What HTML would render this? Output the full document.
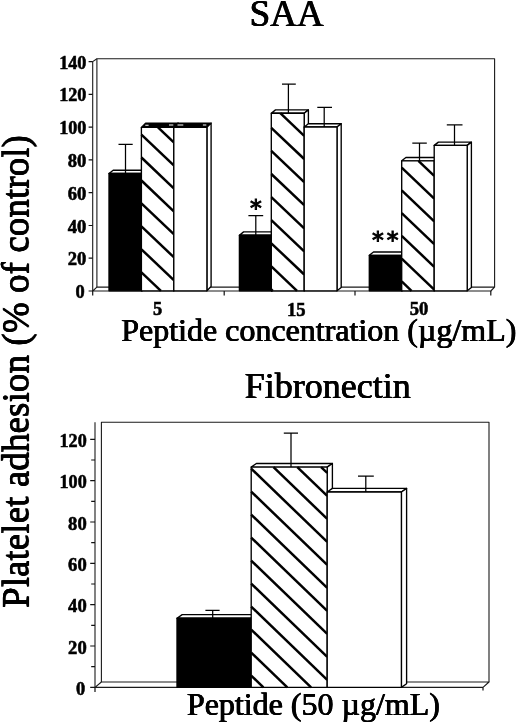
<!DOCTYPE html>
<html><head><meta charset="utf-8"><title>Figure</title>
<style>html,body{margin:0;padding:0;background:#fff}svg{display:block}.h{text-shadow:0.3px 0 0 #000,-0.3px 0 0 #000}.v{text-shadow:0 0.33px 0 #000,0 -0.33px 0 #000}</style></head>
<body>
<svg width="520" height="724" viewBox="0 0 520 724">
<rect width="520" height="724" fill="#fff"/>
<text x="286.6" y="26" font-size="37" text-anchor="middle" font-family="Liberation Serif, Times New Roman, serif" stroke="#000" stroke-width="0.2" class="h">SAA</text>
<text x="327.8" y="397.5" font-size="36" text-anchor="middle" font-family="Liberation Serif, Times New Roman, serif" stroke="#000" stroke-width="0.2" class="h">Fibronectin</text>
<text x="121.2" y="341" font-size="32" font-family="Liberation Serif, Times New Roman, serif" stroke="#000" stroke-width="0.2" class="h">Peptide concentration (µg/mL)</text>
<text x="186.9" y="715" font-size="32" font-family="Liberation Serif, Times New Roman, serif" stroke="#000" stroke-width="0.2" class="h">Peptide (50 µg/mL)</text>
<text transform="translate(28.3 608) rotate(-90)" font-size="37.2" font-family="Liberation Serif, Times New Roman, serif" stroke="#000" stroke-width="0.2" class="v">Platelet adhesion (% of control)</text>
<g fill="none" stroke="#1a1a1a" stroke-width="1.1" stroke-linejoin="round">
<path d="M96.9 287.1V58.7H494.6V287.1"/>
<path d="M92.7 291.0V61.6L96.9 58.7"/>
<path d="M92.7 291.0H490.8L494.6 287.1H96.9Z"/>
</g>
<text x="86.4" y="68.6" font-size="18.3" text-anchor="end" textLength="27.2" lengthAdjust="spacingAndGlyphs" font-family="Liberation Serif, Times New Roman, serif" font-weight="bold" stroke="#000" stroke-width="0.55">140</text>
<text x="86.4" y="101.4" font-size="18.3" text-anchor="end" textLength="27.2" lengthAdjust="spacingAndGlyphs" font-family="Liberation Serif, Times New Roman, serif" font-weight="bold" stroke="#000" stroke-width="0.55">120</text>
<text x="86.4" y="134.1" font-size="18.3" text-anchor="end" textLength="27.2" lengthAdjust="spacingAndGlyphs" font-family="Liberation Serif, Times New Roman, serif" font-weight="bold" stroke="#000" stroke-width="0.55">100</text>
<text x="86.4" y="166.9" font-size="18.3" text-anchor="end" textLength="18.6" lengthAdjust="spacingAndGlyphs" font-family="Liberation Serif, Times New Roman, serif" font-weight="bold" stroke="#000" stroke-width="0.55">80</text>
<text x="86.4" y="199.7" font-size="18.3" text-anchor="end" textLength="18.6" lengthAdjust="spacingAndGlyphs" font-family="Liberation Serif, Times New Roman, serif" font-weight="bold" stroke="#000" stroke-width="0.55">60</text>
<text x="86.4" y="232.5" font-size="18.3" text-anchor="end" textLength="18.6" lengthAdjust="spacingAndGlyphs" font-family="Liberation Serif, Times New Roman, serif" font-weight="bold" stroke="#000" stroke-width="0.55">40</text>
<text x="86.4" y="265.2" font-size="18.3" text-anchor="end" textLength="18.6" lengthAdjust="spacingAndGlyphs" font-family="Liberation Serif, Times New Roman, serif" font-weight="bold" stroke="#000" stroke-width="0.55">20</text>
<text x="84.6" y="298.0" font-size="18.3" text-anchor="end" textLength="9.2" lengthAdjust="spacingAndGlyphs" font-family="Liberation Serif, Times New Roman, serif" font-weight="bold" stroke="#000" stroke-width="0.55">0</text>
<path d="M88.6 61.6H92.7M88.6 94.4H92.7M88.6 127.1H92.7M88.6 159.9H92.7M88.6 192.7H92.7M88.6 225.5H92.7M88.6 258.2H92.7M88.6 291.0H92.7M92.7 291.0V295.6M224.2 291.0V295.6M355.0 291.0V295.6M490.8 291.0V295.6" stroke="#111" stroke-width="1.2" fill="none"/>
<text x="157.6" y="315.1" font-size="18.3" text-anchor="middle" textLength="9.2" lengthAdjust="spacingAndGlyphs" font-family="Liberation Serif, Times New Roman, serif" font-weight="bold" stroke="#000" stroke-width="0.55">5</text>
<text x="296.3" y="315.6" font-size="18.3" text-anchor="middle" textLength="18.6" lengthAdjust="spacingAndGlyphs" font-family="Liberation Serif, Times New Roman, serif" font-weight="bold" stroke="#000" stroke-width="0.55">15</text>
<text x="419.0" y="314.9" font-size="18.3" text-anchor="middle" textLength="18.6" lengthAdjust="spacingAndGlyphs" font-family="Liberation Serif, Times New Roman, serif" font-weight="bold" stroke="#000" stroke-width="0.55">50</text>
<polygon points="109.0,173.5 113.2,170.2 146.2,170.2 142.0,173.5" fill="#fff" stroke="#000" stroke-width="1.35" stroke-linejoin="round"/><polygon points="142.0,173.5 146.2,170.2 146.2,287.5 142.0,290.8" fill="#fff" stroke="#000" stroke-width="1.35" stroke-linejoin="round"/><rect x="109.0" y="173.5" width="33.0" height="117.3" fill="#000" stroke="#000" stroke-width="1.35" stroke-linejoin="round"/><path d="M125.5 173.5V144.4M118.5 144.4H132.7" stroke="#000" stroke-width="1.25" fill="none"/>
<polygon points="141.4,127.4 145.6,123.1 178.0,123.1 173.8,127.4" fill="#000" stroke="#000" stroke-width="1.35" stroke-linejoin="round"/><polygon points="173.8,127.4 178.0,123.1 178.0,286.5 173.8,290.8" fill="#fff" stroke="#000" stroke-width="1.35" stroke-linejoin="round"/><rect x="141.4" y="127.4" width="32.4" height="163.4" fill="#fff" stroke="#000" stroke-width="1.35" stroke-linejoin="round"/><g stroke="#000" stroke-width="2.50"><line x1="158.0" y1="127.4" x2="173.8" y2="142.4"/><line x1="141.4" y1="134.6" x2="173.8" y2="165.4"/><line x1="141.4" y1="157.5" x2="173.8" y2="188.3"/><line x1="141.4" y1="180.5" x2="173.8" y2="211.3"/><line x1="141.4" y1="203.4" x2="173.8" y2="234.2"/><line x1="141.4" y1="226.4" x2="173.8" y2="257.2"/><line x1="141.4" y1="249.3" x2="173.8" y2="280.1"/><line x1="141.4" y1="272.3" x2="160.9" y2="290.8"/></g>
<polygon points="173.8,127.4 178.0,123.1 211.1,123.1 206.9,127.4" fill="#000" stroke="#000" stroke-width="1.35" stroke-linejoin="round"/><polygon points="206.9,127.4 211.1,123.1 211.1,286.5 206.9,290.8" fill="#fff" stroke="#000" stroke-width="1.35" stroke-linejoin="round"/><rect x="173.8" y="127.4" width="33.1" height="163.4" fill="#fff" stroke="#000" stroke-width="1.35" stroke-linejoin="round"/>
<path d="M145.3 125.2H148.6M169 125H173.3M177.5 125H183.3M202.9 125H206.3" stroke="#fff" stroke-width="1.1" fill="none"/>
<polygon points="239.4,235.2 243.6,231.9 276.2,231.9 272.0,235.2" fill="#fff" stroke="#000" stroke-width="1.35" stroke-linejoin="round"/><polygon points="272.0,235.2 276.2,231.9 276.2,287.5 272.0,290.8" fill="#fff" stroke="#000" stroke-width="1.35" stroke-linejoin="round"/><rect x="239.4" y="235.2" width="32.6" height="55.6" fill="#000" stroke="#000" stroke-width="1.35" stroke-linejoin="round"/><path d="M255.8 235.2V215.5M248.4 215.5H263.2" stroke="#000" stroke-width="1.25" fill="none"/>
<polygon points="271.3,113.2 275.5,109.9 308.4,109.9 304.2,113.2" fill="#fff" stroke="#000" stroke-width="1.35" stroke-linejoin="round"/><polygon points="304.2,113.2 308.4,109.9 308.4,287.5 304.2,290.8" fill="#fff" stroke="#000" stroke-width="1.35" stroke-linejoin="round"/><rect x="271.3" y="113.2" width="32.9" height="177.6" fill="#fff" stroke="#000" stroke-width="1.35" stroke-linejoin="round"/><g stroke="#000" stroke-width="2.50"><line x1="280.3" y1="113.2" x2="304.2" y2="135.9"/><line x1="271.3" y1="127.8" x2="304.2" y2="159.0"/><line x1="271.3" y1="150.9" x2="304.2" y2="182.1"/><line x1="271.3" y1="174.0" x2="304.2" y2="205.2"/><line x1="271.3" y1="197.1" x2="304.2" y2="228.3"/><line x1="271.3" y1="220.2" x2="304.2" y2="251.4"/><line x1="271.3" y1="243.3" x2="304.2" y2="274.5"/><line x1="271.3" y1="266.4" x2="297.0" y2="290.8"/><line x1="271.3" y1="289.5" x2="272.7" y2="290.8"/></g><path d="M288.4 113.2V84.2M282.0 84.2H295.8" stroke="#000" stroke-width="1.25" fill="none"/>
<polygon points="304.2,127.0 308.4,123.7 341.2,123.7 337.0,127.0" fill="#fff" stroke="#000" stroke-width="1.35" stroke-linejoin="round"/><polygon points="337.0,127.0 341.2,123.7 341.2,287.5 337.0,290.8" fill="#fff" stroke="#000" stroke-width="1.35" stroke-linejoin="round"/><rect x="304.2" y="127.0" width="32.8" height="163.8" fill="#fff" stroke="#000" stroke-width="1.35" stroke-linejoin="round"/><path d="M324.2 127.0V107.3M317.3 107.3H332.0" stroke="#000" stroke-width="1.25" fill="none"/>
<polygon points="369.3,255.3 373.5,252.0 406.2,252.0 402.0,255.3" fill="#fff" stroke="#000" stroke-width="1.35" stroke-linejoin="round"/><polygon points="402.0,255.3 406.2,252.0 406.2,287.5 402.0,290.8" fill="#fff" stroke="#000" stroke-width="1.35" stroke-linejoin="round"/><rect x="369.3" y="255.3" width="32.7" height="35.5" fill="#000" stroke="#000" stroke-width="1.35" stroke-linejoin="round"/>
<polygon points="401.7,160.8 405.9,157.5 438.4,157.5 434.2,160.8" fill="#fff" stroke="#000" stroke-width="1.35" stroke-linejoin="round"/><polygon points="434.2,160.8 438.4,157.5 438.4,287.5 434.2,290.8" fill="#fff" stroke="#000" stroke-width="1.35" stroke-linejoin="round"/><rect x="401.7" y="160.8" width="32.5" height="130.0" fill="#fff" stroke="#000" stroke-width="1.35" stroke-linejoin="round"/><g stroke="#000" stroke-width="2.50"><line x1="418.4" y1="160.8" x2="434.2" y2="175.8"/><line x1="401.7" y1="167.7" x2="434.2" y2="198.6"/><line x1="401.7" y1="190.4" x2="434.2" y2="221.3"/><line x1="401.7" y1="213.2" x2="434.2" y2="244.1"/><line x1="401.7" y1="235.9" x2="434.2" y2="266.8"/><line x1="401.7" y1="258.7" x2="434.2" y2="289.6"/><line x1="401.7" y1="281.4" x2="411.5" y2="290.8"/></g><path d="M419.5 160.8V143.0M412.3 143.0H426.8" stroke="#000" stroke-width="1.25" fill="none"/>
<polygon points="434.2,145.4 438.4,142.1 471.4,142.1 467.2,145.4" fill="#fff" stroke="#000" stroke-width="1.35" stroke-linejoin="round"/><polygon points="467.2,145.4 471.4,142.1 471.4,287.5 467.2,290.8" fill="#fff" stroke="#000" stroke-width="1.35" stroke-linejoin="round"/><rect x="434.2" y="145.4" width="33.0" height="145.4" fill="#fff" stroke="#000" stroke-width="1.35" stroke-linejoin="round"/><path d="M454.5 145.4V124.8M446.8 124.8H462.5" stroke="#000" stroke-width="1.25" fill="none"/>
<text x="250.1" y="216.0" font-size="23.5" font-family="DejaVu Sans, Liberation Sans, sans-serif" stroke="#000" stroke-width="1.0">*</text>
<text x="372.1" y="248.2" font-size="23.5" letter-spacing="2.95" font-family="DejaVu Sans, Liberation Sans, sans-serif" stroke="#000" stroke-width="1.0">**</text>
<g fill="none" stroke="#1a1a1a" stroke-width="1.1" stroke-linejoin="round">
<path d="M101.4 682.0V422.3H489.0V682.0"/>
<path d="M95.0 687.4V422.3"/>
<path d="M95.0 687.4H483.0L489.0 682.0H101.4Z"/>
</g>
<text x="86.7" y="446.8" font-size="18.3" text-anchor="end" textLength="27.2" lengthAdjust="spacingAndGlyphs" font-family="Liberation Serif, Times New Roman, serif" font-weight="bold" stroke="#000" stroke-width="0.55">120</text>
<text x="86.7" y="488.1" font-size="18.3" text-anchor="end" textLength="27.2" lengthAdjust="spacingAndGlyphs" font-family="Liberation Serif, Times New Roman, serif" font-weight="bold" stroke="#000" stroke-width="0.55">100</text>
<text x="86.7" y="529.5" font-size="18.3" text-anchor="end" textLength="18.6" lengthAdjust="spacingAndGlyphs" font-family="Liberation Serif, Times New Roman, serif" font-weight="bold" stroke="#000" stroke-width="0.55">80</text>
<text x="86.7" y="570.9" font-size="18.3" text-anchor="end" textLength="18.6" lengthAdjust="spacingAndGlyphs" font-family="Liberation Serif, Times New Roman, serif" font-weight="bold" stroke="#000" stroke-width="0.55">60</text>
<text x="86.7" y="612.2" font-size="18.3" text-anchor="end" textLength="18.6" lengthAdjust="spacingAndGlyphs" font-family="Liberation Serif, Times New Roman, serif" font-weight="bold" stroke="#000" stroke-width="0.55">40</text>
<text x="86.7" y="653.5" font-size="18.3" text-anchor="end" textLength="18.6" lengthAdjust="spacingAndGlyphs" font-family="Liberation Serif, Times New Roman, serif" font-weight="bold" stroke="#000" stroke-width="0.55">20</text>
<text x="85.3" y="694.9" font-size="18.3" text-anchor="end" textLength="9.2" lengthAdjust="spacingAndGlyphs" font-family="Liberation Serif, Times New Roman, serif" font-weight="bold" stroke="#000" stroke-width="0.55">0</text>
<path d="M90.2 439.3H95.0M91.2 460.0H95.0M90.2 480.6H95.0M91.2 501.3H95.0M90.2 522.0H95.0M91.2 542.7H95.0M90.2 563.4H95.0M91.2 584.0H95.0M90.2 604.7H95.0M91.2 625.4H95.0M90.2 646.0H95.0M91.2 666.7H95.0M90.2 687.4H95.0M95.0 687.4V691.9M483.0 687.4V690.4" stroke="#111" stroke-width="1.2" fill="none"/>
<polygon points="177.0,618.2 182.2,614.6 256.2,614.6 251.0,618.2" fill="#fff" stroke="#000" stroke-width="1.35" stroke-linejoin="round"/><polygon points="251.0,618.2 256.2,614.6 256.2,683.8 251.0,687.4" fill="#fff" stroke="#000" stroke-width="1.35" stroke-linejoin="round"/><rect x="177.0" y="618.2" width="74.0" height="69.2" fill="#000" stroke="#000" stroke-width="1.35" stroke-linejoin="round"/><path d="M212.7 618.2V610.4M205.4 610.4H219.6" stroke="#000" stroke-width="1.25" fill="none"/>
<polygon points="251.2,467.1 256.4,463.5 332.4,463.5 327.2,467.1" fill="#fff" stroke="#000" stroke-width="1.35" stroke-linejoin="round"/><polygon points="327.2,467.1 332.4,463.5 332.4,683.8 327.2,687.4" fill="#fff" stroke="#000" stroke-width="1.35" stroke-linejoin="round"/><rect x="251.2" y="467.1" width="76.0" height="220.3" fill="#fff" stroke="#000" stroke-width="1.35" stroke-linejoin="round"/><g stroke="#000" stroke-width="2.50"><line x1="321.1" y1="467.1" x2="327.2" y2="472.9"/><line x1="297.3" y1="467.1" x2="327.2" y2="495.9"/><line x1="273.5" y1="467.1" x2="327.2" y2="518.9"/><line x1="251.2" y1="468.6" x2="327.2" y2="541.9"/><line x1="251.2" y1="491.6" x2="327.2" y2="564.9"/><line x1="251.2" y1="514.6" x2="327.2" y2="587.9"/><line x1="251.2" y1="537.6" x2="327.2" y2="610.9"/><line x1="251.2" y1="560.6" x2="327.2" y2="633.9"/><line x1="251.2" y1="583.6" x2="327.2" y2="656.9"/><line x1="251.2" y1="606.6" x2="327.2" y2="679.9"/><line x1="251.2" y1="629.6" x2="311.1" y2="687.4"/><line x1="251.2" y1="652.6" x2="287.3" y2="687.4"/><line x1="251.2" y1="675.6" x2="263.4" y2="687.4"/></g><path d="M291.0 467.1V433.0M283.8 433.0H298.0" stroke="#000" stroke-width="1.25" fill="none"/>
<polygon points="327.2,492.0 332.4,488.4 406.6,488.4 401.4,492.0" fill="#fff" stroke="#000" stroke-width="1.35" stroke-linejoin="round"/><polygon points="401.4,492.0 406.6,488.4 406.6,683.8 401.4,687.4" fill="#fff" stroke="#000" stroke-width="1.35" stroke-linejoin="round"/><rect x="327.2" y="492.0" width="74.2" height="195.4" fill="#fff" stroke="#000" stroke-width="1.35" stroke-linejoin="round"/><path d="M365.8 492.0V476.2M358.0 476.2H373.8" stroke="#000" stroke-width="1.25" fill="none"/>
</svg>
</body></html>
